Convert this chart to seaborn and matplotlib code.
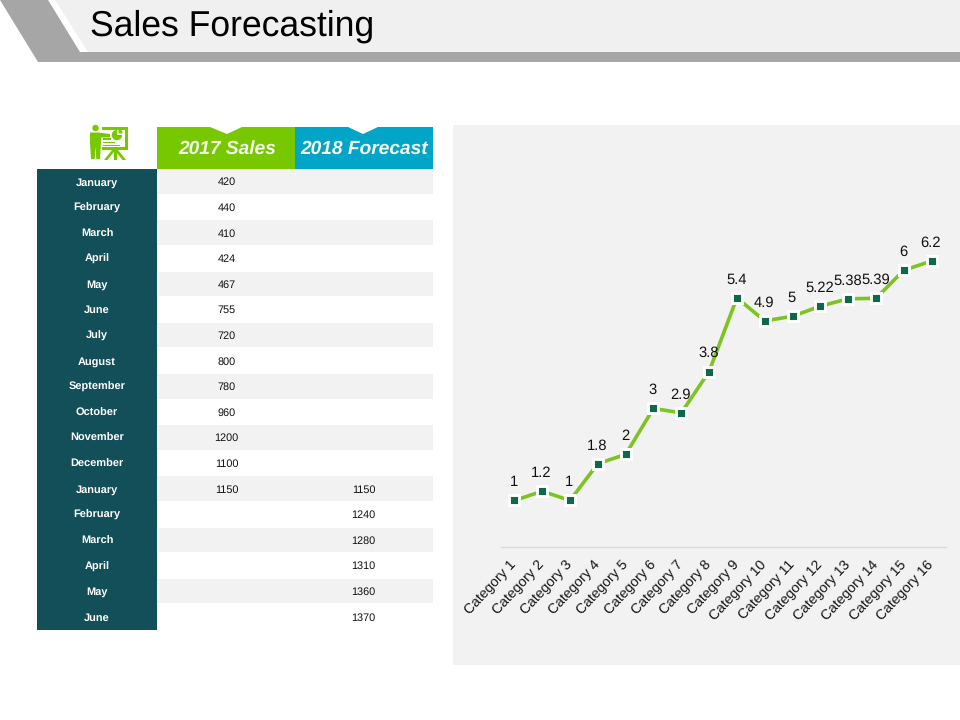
import matplotlib
matplotlib.use("Agg")
import matplotlib.pyplot as plt
from matplotlib.patches import Polygon, Rectangle, Wedge, Circle
import pandas as pd
import seaborn as sns

sns.set_theme(style="white")
plt.rcParams['font.family'] = ['Liberation Sans', 'DejaVu Sans']
plt.rcParams['text.hinting'] = 'no_hinting'

# ---------- data ----------
title = "Sales Forecasting"
col_headers = ["2017 Sales", "2018 Forecast"]
months = ["January", "February", "March", "April", "May", "June", "July", "August",
          "September", "October", "November", "December", "January", "February",
          "March", "April", "May", "June"]
sales_2017 = [420, 440, 410, 424, 467, 755, 720, 800, 780, 960, 1200, 1100, 1150,
              None, None, None, None, None]
forecast_2018 = [None, None, None, None, None, None, None, None, None, None, None, None,
                 1150, 1240, 1280, 1310, 1360, 1370]
categories = [f"Category {i}" for i in range(1, 17)]
series_values = [1, 1.2, 1, 1.8, 2, 3, 2.9, 3.8, 5.4, 4.9, 5, 5.22, 5.38, 5.39, 6, 6.2]
label_texts = ["1", "1.2", "1", "1.8", "2", "3", "2.9", "3.8", "5.4", "4.9", "5",
               "5.22", "5.38", "5.39", "6", "6.2"]

# ---------- palette ----------
GREEN = "#78C800"
BLUE = "#00A5C8"
TEAL = "#124F58"
PANEL = "#F2F2F2"
BAND = "#A6A6A6"
LINE = "#7DC322"
MARK = "#0B6B47"

W, H = 960, 720
fig = plt.figure(figsize=(W / 100, H / 100), dpi=100, facecolor="white")


def px_axes(left, top, right, bottom, **kw):
    return fig.add_axes([left / W, 1 - bottom / H, (right - left) / W, (bottom - top) / H], **kw)


# ---------- page decoration, in pixel coordinates ----------
bg = px_axes(0, 0, W, H)
bg.set_xlim(0, W)
bg.set_ylim(H, 0)
bg.axis("off")
bg.add_patch(Polygon([(55, 0), (88, 52), (960, 52), (960, 0)], fc="#F0F0F0", ec="none"))
bg.add_patch(Polygon([(0, 0), (48, 0), (80, 52), (960, 52), (960, 62), (38, 62)], fc=BAND, ec="none"))
bg.text(89.5, 36, title, fontsize=25.6, color="black", va="baseline", ha="left")
bg.add_patch(Rectangle((453, 125), 507, 540, fc=PANEL, ec="none"))

# column headers with their notch
bg.add_patch(Polygon([(157, 127), (210, 127), (227, 134), (242, 127), (295, 127), (295, 169), (157, 169)],
                     fc=GREEN, ec="none"))
bg.add_patch(Polygon([(295, 127), (348, 127), (363, 134), (378, 127), (433, 127), (433, 169), (295, 169)],
                     fc=BLUE, ec="none"))
for cx, head in zip([227, 364.5], col_headers):
    bg.text(cx, 148.5, head, fontsize=13.8, color="#F4FBEF", style="italic", weight="bold",
            ha="center", va="center")

# presentation icon
ICON = "#78C800"
bg.add_patch(Circle((95.5, 128), 3.2, fc=ICON, ec="none"))
bg.add_patch(Polygon([(90, 132.5), (99, 132.5), (110, 134), (110, 137.5), (101, 137.5), (101, 143),
                      (100, 159), (96.3, 159), (95.5, 147), (94.7, 159), (91, 159), (90, 143)],
                     fc=ICON, ec="none"))
bg.add_patch(Polygon([(102, 126.5), (128, 126.5), (128, 150), (102, 150), (102, 147), (125, 147),
                      (125, 129.5), (102, 129.5)], fc=ICON, ec="none"))
bg.add_patch(Wedge((117, 135), 5.2, 0, 270, fc=ICON, ec="none"))
bg.add_patch(Wedge((118.5, 133.5), 4.2, 270, 360, fc=ICON, ec="none"))
for yy, x1 in [(138, 111), (141.5, 115), (144.5, 120)]:
    bg.add_patch(Rectangle((103, yy), x1 - 103, 1.7, fc=ICON, ec="none"))
bg.add_patch(Polygon([(113.5, 150), (116.5, 150), (116.5, 160), (113.5, 160)], fc=ICON, ec="none"))
bg.add_patch(Polygon([(112, 150), (115.5, 150), (107.5, 160), (104, 160)], fc=ICON, ec="none"))
bg.add_patch(Polygon([(114.5, 150), (118, 150), (126, 160), (122.5, 160)], fc=ICON, ec="none"))

# ---------- table, with one row per unit ----------
tb = px_axes(37, 169.2, 433, 630)
tb.set_xlim(37, 433)
tb.set_ylim(len(months), 0)
tb.axis("off")
tb.patch.set_alpha(0)
for i, (month, s, f) in enumerate(zip(months, sales_2017, forecast_2018)):
    tb.add_patch(Rectangle((37, i), 120, 1, fc=TEAL, ec="none"))
    if i % 2 == 0:
        tb.add_patch(Rectangle((157, i), 276, 0.96, fc=PANEL, ec="none"))
    tb.text(97, i + 0.52, month, fontsize=7.9, weight="bold", color="white", ha="center", va="center")
    if s is not None:
        tb.text(226.5, i + 0.52, str(s), fontsize=7.8, color="#111111", ha="center", va="center")
    if f is not None:
        tb.text(363.5, i + 0.52, str(f), fontsize=7.8, color="#111111", ha="center", va="center")

# ---------- line chart ----------
df = pd.DataFrame({"category": categories, "value": series_values})
ax = px_axes(500.5, 224.2, 945.5, 546.5)
ax.patch.set_alpha(0)
sns.lineplot(data=df, x="category", y="value", ax=ax, color=LINE, linewidth=2.6, sort=False,
             marker="s", markersize=6.8, markerfacecolor=MARK, markeredgecolor="white",
             markeredgewidth=2.1, errorbar=None)
ax.set_xlim(-0.5, len(categories) - 0.5)
ax.set_ylim(0, 7)
ax.set_xlabel("")
ax.set_ylabel("")
ax.set_yticks([])
ax.tick_params(axis="x", length=0, pad=11.5)
ax.set_xticks(range(len(categories)))
ax.set_xticklabels(categories, rotation=47, ha="right", va="center", rotation_mode="anchor",
                   fontsize=10.1, color="#111111")
for side in ["top", "left", "right"]:
    ax.spines[side].set_visible(False)
ax.spines["bottom"].set_color("#D9D9D9")
ax.spines["bottom"].set_linewidth(0.9)
for x, (v, txt) in enumerate(zip(series_values, label_texts)):
    ax.annotate(txt, (x, v), xytext=(-0.5, 8), textcoords="offset points", ha="center",
                va="bottom", fontsize=10.6, color="#111111")

fig.savefig("out.png", dpi=100, facecolor="white")
